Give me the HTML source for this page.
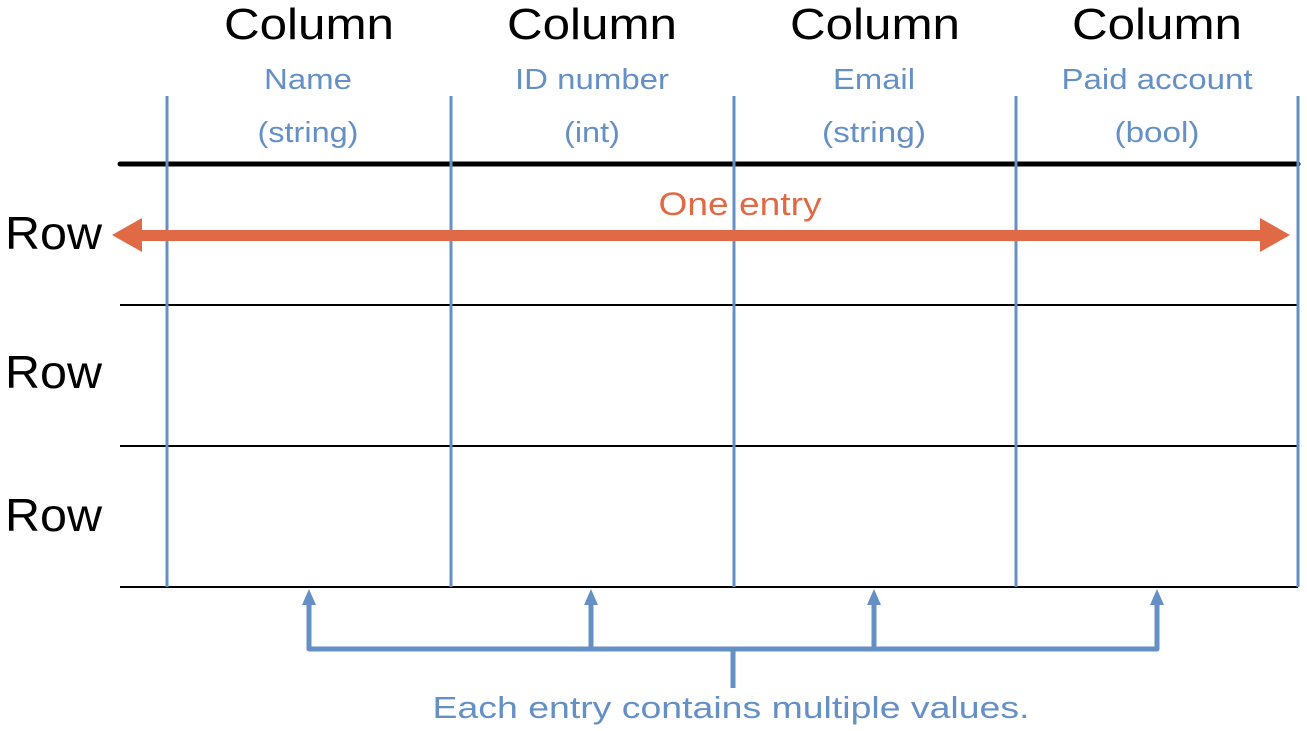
<!DOCTYPE html>
<html><head><meta charset="utf-8"><style>html,body{margin:0;padding:0;background:#fff}svg{display:block}</style></head>
<body>
<svg width="1307" height="731" viewBox="0 0 1307 731" xmlns="http://www.w3.org/2000/svg" font-family="Liberation Sans, sans-serif">
<g text-anchor="middle" font-size="44" fill="#000" lengthAdjust="spacingAndGlyphs">
<text x="309" y="39" textLength="170" lengthAdjust="spacingAndGlyphs">Column</text>
<text x="592" y="39" textLength="170" lengthAdjust="spacingAndGlyphs">Column</text>
<text x="875" y="39" textLength="170" lengthAdjust="spacingAndGlyphs">Column</text>
<text x="1157" y="39" textLength="170" lengthAdjust="spacingAndGlyphs">Column</text>
</g>
<g text-anchor="middle" font-size="29" fill="#6590c6">
<text x="308" y="89" textLength="88" lengthAdjust="spacingAndGlyphs">Name</text>
<text x="308" y="142" textLength="101" lengthAdjust="spacingAndGlyphs">(string)</text>
<text x="592" y="89" textLength="154" lengthAdjust="spacingAndGlyphs">ID number</text>
<text x="592" y="142" textLength="56" lengthAdjust="spacingAndGlyphs">(int)</text>
<text x="874" y="89" textLength="82" lengthAdjust="spacingAndGlyphs">Email</text>
<text x="874" y="142" textLength="104" lengthAdjust="spacingAndGlyphs">(string)</text>
<text x="1157" y="89" textLength="191" lengthAdjust="spacingAndGlyphs">Paid account</text>
<text x="1157" y="142" textLength="85" lengthAdjust="spacingAndGlyphs">(bool)</text>
</g>
<g stroke="#000">
<line x1="120" y1="164" x2="1298" y2="164" stroke-width="5" stroke-linecap="round"/>
<line x1="120" y1="305" x2="1298" y2="305" stroke-width="2"/>
<line x1="120" y1="446" x2="1298" y2="446" stroke-width="2"/>
<line x1="120" y1="587" x2="1298" y2="587" stroke-width="2"/>
</g>
<g stroke="#6590c6" stroke-width="3">
<line x1="167" y1="96" x2="167" y2="587"/><line x1="451" y1="96" x2="451" y2="587"/>
<line x1="734" y1="96" x2="734" y2="587"/><line x1="1016" y1="96" x2="1016" y2="587"/>
<line x1="1298" y1="96" x2="1298" y2="587"/>
</g>
<g font-size="46" fill="#000">
<text x="5" y="249" textLength="97" lengthAdjust="spacingAndGlyphs">Row</text>
<text x="5" y="388" textLength="97" lengthAdjust="spacingAndGlyphs">Row</text>
<text x="5" y="531" textLength="97" lengthAdjust="spacingAndGlyphs">Row</text>
</g>
<text x="740" y="215" text-anchor="middle" font-size="32" fill="#e06a46" textLength="163" lengthAdjust="spacingAndGlyphs">One entry</text>
<g fill="#e06a46">
<rect x="138" y="230" width="1126" height="11"/>
<polygon points="112,235 142,218 142,252"/>
<polygon points="1290,235 1260,218 1260,252"/>
</g>
<g stroke="#6590c6" stroke-width="5" fill="none" stroke-linejoin="round">
<polyline points="309,603 309,649 1157,649 1157,603"/>
<line x1="591" y1="603" x2="591" y2="649"/><line x1="874" y1="603" x2="874" y2="649"/>
<line x1="733" y1="649" x2="733" y2="688"/>
</g>
<g fill="#6590c6">
<polygon points="309,589 302,605 316,605"/><polygon points="591,589 584,605 598,605"/>
<polygon points="874,589 867,605 881,605"/><polygon points="1157,589 1150,605 1164,605"/>
</g>
<text x="731" y="718" text-anchor="middle" font-size="31" fill="#6590c6" textLength="597" lengthAdjust="spacingAndGlyphs">Each entry contains multiple values.</text>
</svg>
</body></html>
